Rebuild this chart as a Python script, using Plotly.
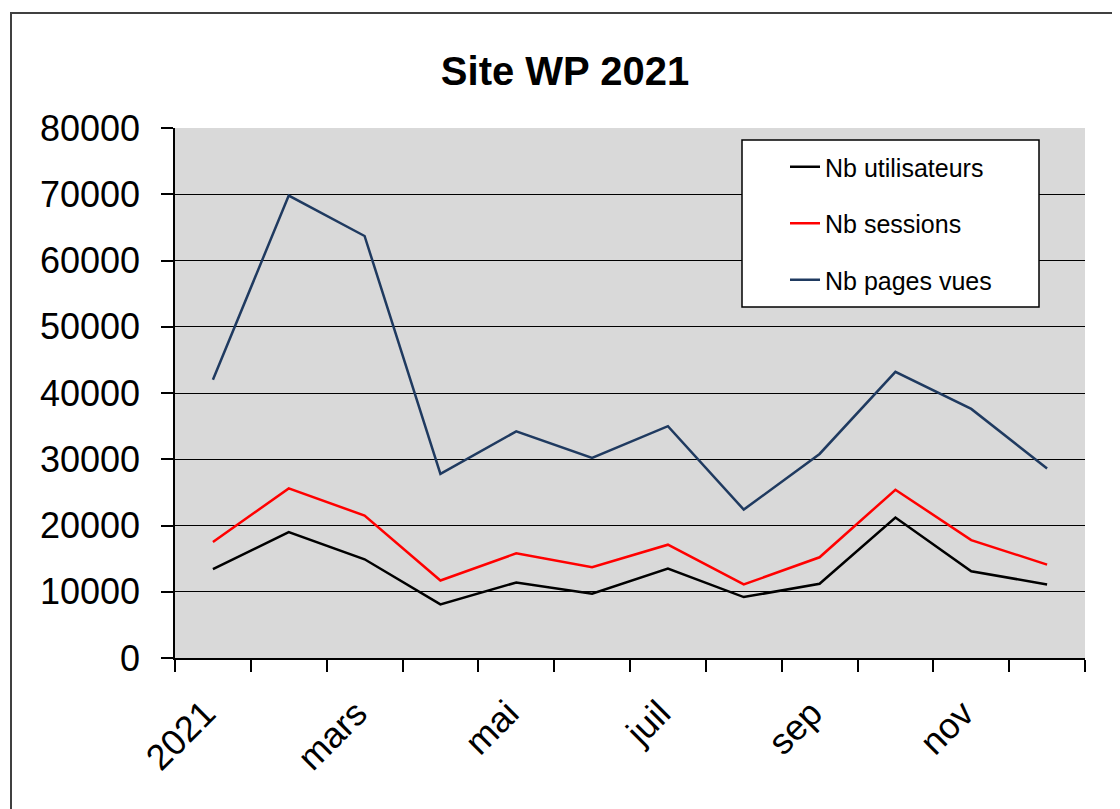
import plotly.graph_objects as go

# ---- data
months = ["janv", "févr", "mars", "avr", "mai", "juin",
          "juil", "août", "sep", "oct", "nov", "déc"]
tick_labels = ["2021", "", "mars", "", "mai", "", "juil", "", "sep", "", "nov", ""]

nb_utilisateurs = [13400, 19000, 14900, 8100, 11400, 9700,
                   13500, 9200, 11200, 21200, 13100, 11100]
nb_sessions = [17500, 25600, 21500, 11700, 15800, 13700,
               17100, 11100, 15200, 25400, 17800, 14100]
nb_pages_vues = [42000, 69800, 63700, 27800, 34200, 30200,
                 35000, 22400, 30800, 43200, 37600, 28600]

x_idx = list(range(len(months)))
FONT = "Arial, Liberation Sans, sans-serif"

fig = go.Figure()
series = [
    ("Nb utilisateurs", nb_utilisateurs, "#000000"),
    ("Nb sessions", nb_sessions, "#FF0000"),
    ("Nb pages vues", nb_pages_vues, "#1F3A60"),
]
for name, vals, col in series:
    fig.add_trace(go.Scatter(
        x=x_idx, y=vals, mode="lines", name=name,
        legendgroup=name, customdata=months,
        line=dict(color=col, width=2.5),
        hovertemplate="%{customdata}: %{y}<extra>" + name + "</extra>",
    ))

# the page body adds an 8px offset, so the figure is 1112x801
OFF = 8
FW, FH = 1120 - OFF, 809 - OFF
# plot area in page pixels: x 175..1085, y 128..658
L, R, T, B = 175 - OFF, 1085 - OFF, 128 - OFF, 658 - OFF
W, H = R - L, B - T


def px_x(p):
    return (p - OFF - L) / W


def px_y(p):
    return (B - (p - OFF)) / H


shapes = [
    # outer chart frame (runs off the right / bottom edge)
    dict(type="rect", xref="paper", yref="paper",
         x0=px_x(11), x1=px_x(1200), y0=px_y(900), y1=px_y(13),
         line=dict(color="#404040", width=2), fillcolor="rgba(0,0,0,0)"),
    # legend box
    dict(type="rect", xref="paper", yref="paper", layer="above",
         x0=px_x(742), x1=px_x(1039), y0=px_y(307), y1=px_y(140),
         line=dict(color="#000000", width=1.5), fillcolor="#FFFFFF"),
]

fig.update_layout(
    width=FW, height=FH,
    margin=dict(l=L, r=FW - R, t=T, b=FH - B),
    paper_bgcolor="#FFFFFF",
    plot_bgcolor="#D9D9D9",
    font=dict(family=FONT, color="#000000"),
    title=dict(text="<b>Site WP 2021</b>", x=(565 - OFF) / FW, xref="container",
               y=1 - (71 - OFF) / FH, yref="container", xanchor="center", yanchor="middle",
               font=dict(size=40, family=FONT, color="#000000")),
    showlegend=True,
    legend=dict(x=px_x(785), y=px_y(144), xanchor="left", yanchor="top",
                bgcolor="rgba(0,0,0,0)", borderwidth=0,
                font=dict(size=25, family=FONT, color="#000000"),
                tracegroupgap=21, traceorder="grouped"),
    shapes=shapes,
)

fig.update_xaxes(
    range=[-0.5, 11.5], tickvals=x_idx, ticktext=tick_labels,
    tickangle=-45, tickfont=dict(size=36, family=FONT, color="#000000"),
    ticklabelstandoff=18, ticklabelshift=-8,
    ticks="", showgrid=False, zeroline=False,
    showline=True, linecolor="#000000", linewidth=1.5,
    minor=dict(tickvals=[i - 0.5 for i in range(len(months) + 1)],
               ticks="outside", ticklen=12, tickcolor="#000000", tickwidth=1.5,
               showgrid=False),
)
fig.update_yaxes(
    range=[0, 80000], dtick=10000, tickformat="d",
    tickfont=dict(size=36, family=FONT, color="#000000"),
    ticks="outside", ticklen=12, tickcolor="#000000", tickwidth=1.5,
    ticklabelstandoff=14,
    showgrid=True, gridcolor="#000000", gridwidth=1.2,
    zeroline=False, showline=True, linecolor="#000000", linewidth=1.5,
)

fig.write_html("out.html")
